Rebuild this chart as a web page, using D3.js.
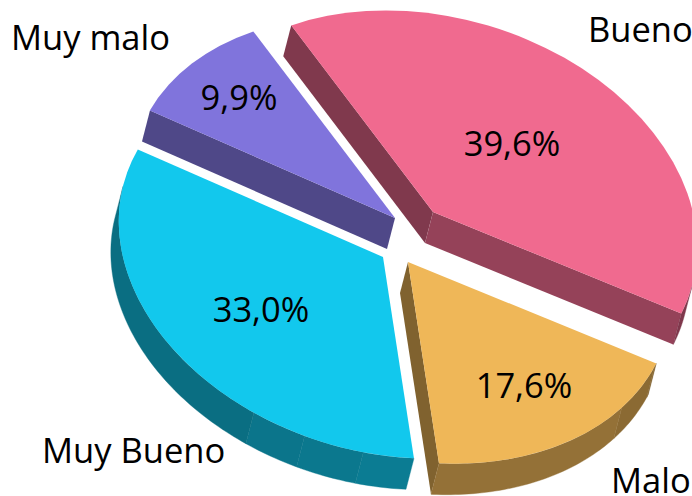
<!DOCTYPE html>
<html>
<head>
<meta charset="utf-8">
<script src="https://cdn.jsdelivr.net/npm/d3@7"></script>
<style>
  html, body { margin: 0; padding: 0; background: #fff; overflow: hidden; }
  text { font-family: "Open Sans", sans-serif; fill: #000; }
</style>
</head>
<body>
<div id="chart"></div>
<script>
// chart data
var categories = ["Bueno", "Malo", "Muy Bueno", "Muy malo"];
var percents = [39.6, 17.6, 33.0, 9.9];
var sliceColors = ["#f06a8f", "#efb758", "#12c8ed", "#8074dc"];

var svgWidth = 692;
var svgHeight = 496;

// where each exploded slice sits, and its labels
var layout = {
  "Bueno":     { apex: [433, 212], value: [512, 156], name: [588, 42] },
  "Malo":      { apex: [408, 262], value: [524, 398], name: [611, 493] },
  "Muy Bueno": { apex: [383, 257], value: [261, 322], name: [42, 463] },
  "Muy malo":  { apex: [395, 218], value: [239, 110], name: [11, 50] }
};

// the tilted disc: unit circle -> screen
var axisA = [248, 102];
var axisB = [-91, 174];
var depth = [-8, 31];
var firstAngle = -52.6 * Math.PI / 180;

// depth expressed on the unit circle, tells which walls face us
var det = axisA[0] * axisB[1] - axisB[0] * axisA[1];
var depthX = (axisB[1] * depth[0] - axisB[0] * depth[1]) / det;
var depthY = (axisA[0] * depth[1] - axisA[1] * depth[0]) / det;

function project(angle, apex, drop) {
  var x = Math.sin(angle), y = -Math.cos(angle);
  return [
    apex[0] + axisA[0] * x + axisB[0] * y + (drop ? depth[0] : 0),
    apex[1] + axisA[1] * x + axisB[1] * y + (drop ? depth[1] : 0)
  ];
}

function roundWallVisible(angle) {
  return Math.sin(angle) * depthX - Math.cos(angle) * depthY > 0;
}

function cross(a, b) {
  return a[0] * b[1] - a[1] * b[0];
}

// shading of the round wall, it goes by facets in the original
var arcShade = d3.scaleThreshold()
  .domain([90, 105, 164, 176.5, 189])
  .range([0.53, 0.58, 0.62, 0.60, 0.585, 0.55]);

function shadeColor(color, k) {
  var c = d3.rgb(color);
  return d3.rgb(c.r * k, c.g * k, c.b * k).formatHex();
}

var svg = d3.select("#chart")
  .append("svg")
  .attr("width", svgWidth)
  .attr("height", svgHeight);

var pie = d3.pie()
  .sort(null)
  .startAngle(firstAngle)
  .endAngle(firstAngle + 2 * Math.PI)
  .value(d => d);

var arcs = pie(percents);
var topArc = d3.arc().innerRadius(0).outerRadius(1);
var polygon = d3.line();
var commaFormat = d3.formatLocale({ decimal: ",", thousands: ".", grouping: [3], currency: ["", ""] }).format(".1f");

var slices = svg.selectAll("g.slice")
  .data(arcs)
  .enter()
  .append("g")
  .attr("class", "slice");

slices.each(function(d, i) {
  var g = d3.select(this);
  var color = sliceColors[i];
  var apex = layout[categories[i]].apex;

  var edgeStart = [project(d.startAngle, apex)[0] - apex[0], project(d.startAngle, apex)[1] - apex[1]];
  var edgeEnd = [project(d.endAngle, apex)[0] - apex[0], project(d.endAngle, apex)[1] - apex[1]];

  // flat walls, only the ones that look at the viewer
  [[d.startAngle, edgeStart, edgeEnd], [d.endAngle, edgeEnd, edgeStart]].forEach(function(e) {
    if (cross(e[1], depth) * cross(e[1], e[2]) > 0) return;
    var flat = Math.abs(e[1][0]) > Math.abs(e[1][1]);
    var wall = [apex, project(e[0], apex, false), project(e[0], apex, true), [apex[0] + depth[0], apex[1] + depth[1]]];
    g.append("path")
      .attr("d", polygon(wall) + "Z")
      .attr("fill", shadeColor(color, flat ? 0.62 : 0.535));
  });

  // round wall, pieces of the same shade are joined
  var step = Math.PI / 180;
  var run = [];
  var runFill = null;
  function flush() {
    if (run.length > 1) {
      var outline = run.map(a => project(a, apex, false))
        .concat(run.slice().reverse().map(a => project(a, apex, true)));
      g.append("path")
        .attr("d", polygon(outline) + "Z")
        .attr("fill", runFill)
        .attr("stroke", runFill)
        .attr("stroke-width", 0.4);
    }
    run = [];
  }
  for (var a = d.startAngle; a < d.endAngle; a += step) {
    var b = Math.min(a + step, d.endAngle);
    if (!roundWallVisible((a + b) / 2)) { flush(); continue; }
    var deg = (a * 180 / Math.PI + 360) % 360;
    var fill = shadeColor(color, arcShade(deg));
    if (fill !== runFill) { var last = run[run.length - 1]; flush(); if (last !== undefined) run.push(last); runFill = fill; }
    if (!run.length) run.push(a);
    run.push(b);
  }
  flush();

  // top face
  g.append("path")
    .attr("d", topArc(d))
    .attr("transform", `matrix(${axisA[0]},${axisA[1]},${axisB[0]},${axisB[1]},${apex[0]},${apex[1]})`)
    .attr("fill", color);
});

slices.append("text")
  .attr("x", (d, i) => layout[categories[i]].value[0])
  .attr("y", (d, i) => layout[categories[i]].value[1])
  .attr("text-anchor", "middle")
  .attr("font-size", 34.5)
  .text(d => commaFormat(d.value) + "%");

svg.selectAll("text.name")
  .data(categories)
  .enter()
  .append("text")
  .attr("class", "name")
  .attr("x", d => layout[d].name[0])
  .attr("y", d => layout[d].name[1])
  .attr("font-size", 34.5)
  .text(d => d);
</script>
</body>
</html>
